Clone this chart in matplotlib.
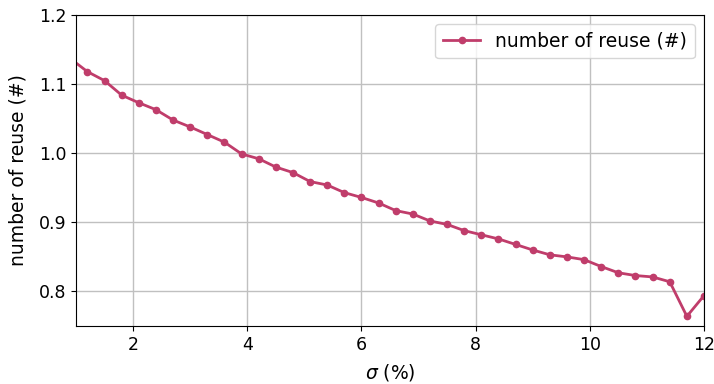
import matplotlib
matplotlib.use("Agg")
import matplotlib.pyplot as plt

sigma = [0.9, 1.2, 1.5, 1.8, 2.1, 2.4, 2.7, 3.0, 3.3, 3.6, 3.9, 4.2, 4.5, 4.8,
         5.1, 5.4, 5.7, 6.0, 6.3, 6.6, 6.9, 7.2, 7.5, 7.8, 8.1, 8.4, 8.7, 9.0,
         9.3, 9.6, 9.9, 10.2, 10.5, 10.8, 11.1, 11.4, 11.7, 12.0]
reuse = [1.137, 1.118, 1.105, 1.084, 1.073, 1.063, 1.048, 1.038, 1.027, 1.016,
         0.999, 0.992, 0.980, 0.972, 0.959, 0.954, 0.943, 0.936, 0.928, 0.917,
         0.912, 0.902, 0.897, 0.888, 0.882, 0.876, 0.868, 0.860, 0.853, 0.850,
         0.846, 0.836, 0.827, 0.823, 0.821, 0.814, 0.764, 0.794]

plt.rcParams['font.size'] = 13.5
plt.rcParams['xtick.labelsize'] = 12.5
plt.rcParams['ytick.labelsize'] = 12.5
fig = plt.figure(figsize=(7.14, 3.84), dpi=100)
ax = fig.add_axes([76/714, 1 - 326/384, 628/714, 311/384])
ax.plot(sigma, reuse, color='#c03d6b', marker='o', markersize=4.5, linewidth=2,
        label='number of reuse (#)')
ax.set_xlim(1, 12)
ax.set_ylim(0.75, 1.2)
ax.set_xticks([2, 4, 6, 8, 10, 12])
ax.set_yticks([0.8, 0.9, 1.0, 1.1, 1.2])
ax.grid(True, color='#c0c0c0', linewidth=1)
ax.set_axisbelow(True)
ax.set_xlabel(r'$\sigma$ (%)', labelpad=6)
ax.set_ylabel('number of reuse (#)', labelpad=8)
ax.legend(loc='upper right')
fig.savefig('out.png', dpi=100)
